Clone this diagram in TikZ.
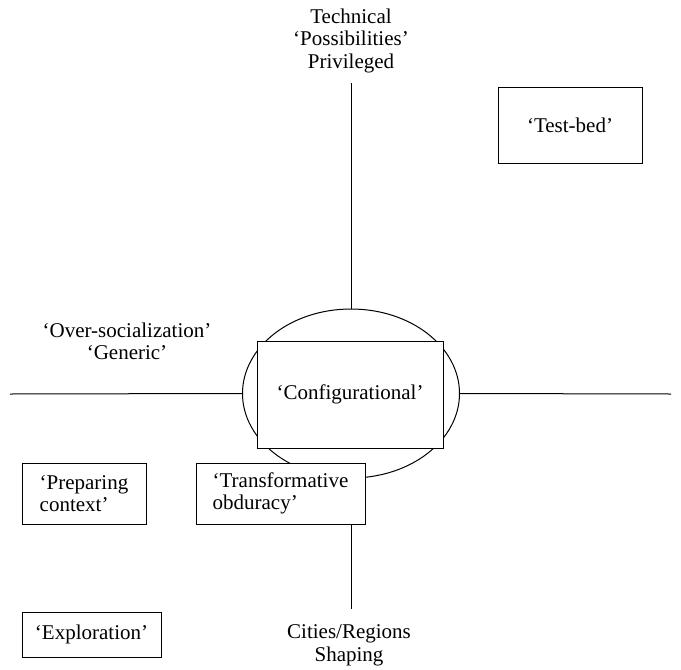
\documentclass[tikz,border=0pt]{standalone}
\usepackage{fontspec}
\setmainfont{Liberation Serif}
\usetikzlibrary{shapes.geometric}
\begin{document}
\begin{tikzpicture}[x=1pt,y=-1pt,
  every node/.style={font=\fontsize{21}{22.5}\selectfont, inner sep=0pt},
  box/.style={draw, fill=white, line width=1pt, align=left},
  lab/.style={align=center, anchor=north},
  conn/.style={line width=1pt}]
\useasboundingbox (0,0) rectangle (681,670);
\node[ellipse, draw, line width=1pt, minimum width=217pt, minimum height=169pt] (ell) at (351,393.5) {};
\node[lab] (top) at (351,8.7) {Technical\\‘Possibilities’\\Privileged};
\node[lab] (over) at (127,322.7) {‘Over-socialization’\\‘Generic’};
\node[lab] (cities) at (349,624.7) {Cities/Regions\\Shaping};
\coordinate (T) at (351,83);
\coordinate (B) at (351,609);
\coordinate (L) at (10,394);
\coordinate (R) at (671,394);
\draw[conn] (T) -- (ell.north);
\draw[conn] (ell.south) -- (B);
\draw[conn] (L) -- (ell.west);
\draw[conn] (ell.east) -- (R);
\node[box, minimum width=186pt, minimum height=107pt] (conf) at (350,394.5) {‘Configurational’};
\node[box, minimum width=144pt, minimum height=76pt] (test) at (570,125) {‘Test-bed’};
\node[box, minimum width=124pt, minimum height=61pt] (prep) at (84,493.5) {‘Preparing\\context’};
\node[box, minimum width=169pt, minimum height=61pt] (trans) at (280.5,493.5) {‘Transformative\\obduracy’};
\node[box, minimum width=139pt, minimum height=45pt] (expl) at (91.5,634.5) {‘Exploration’};
\end{tikzpicture}
\end{document}
